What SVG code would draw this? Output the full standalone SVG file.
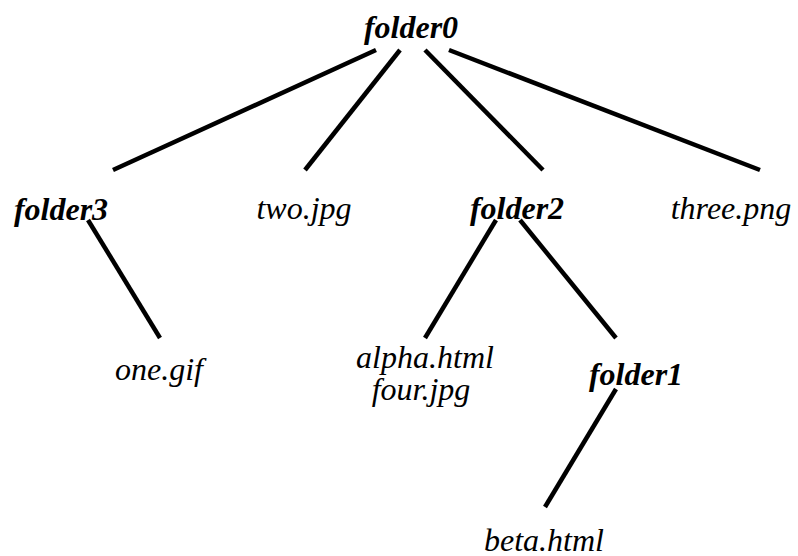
<svg xmlns="http://www.w3.org/2000/svg" width="798" height="556" viewBox="0 0 798 556">
<style>
text{font-family:'Liberation Serif','Times New Roman',Tinos,'DejaVu Serif',serif;font-size:32px;font-style:italic;text-anchor:middle;fill:#000}
.folder{font-weight:bold}
.edge{stroke:#000;stroke-width:4.5;fill:none}
</style>
<rect width="798" height="556" fill="#fff"/>
<g id="connectors">
<line class="edge" x1="376" y1="50" x2="113" y2="170"/>
<line class="edge" x1="400" y1="50" x2="305" y2="170"/>
<line class="edge" x1="425" y1="50" x2="543" y2="170"/>
<line class="edge" x1="449" y1="50" x2="760" y2="170"/>
<line class="edge" x1="88" y1="220" x2="160" y2="338"/>
<line class="edge" x1="496" y1="220" x2="425" y2="338"/>
<line class="edge" x1="520" y1="220" x2="616" y2="338"/>
<line class="edge" x1="616" y1="389" x2="545" y2="507"/>
</g>
<g id="folder0"><text class="folder" x="411" y="38">folder0</text></g>
<g id="folder3"><text class="folder" x="61" y="220">folder3</text></g>
<g id="two"><text x="304" y="219">two.jpg</text></g>
<g id="folder2"><text class="folder" x="517" y="219">folder2</text></g>
<g id="three"><text x="731" y="219">three.png</text></g>
<g id="one"><text x="159" y="380">one.gif</text></g>
<g id="alpha_four"><text x="425" y="368">alpha.html</text><text x="421" y="400">four.jpg</text></g>
<g id="folder1"><text class="folder" x="636" y="385">folder1</text></g>
<g id="beta"><text x="544" y="551">beta.html</text></g>
</svg>
